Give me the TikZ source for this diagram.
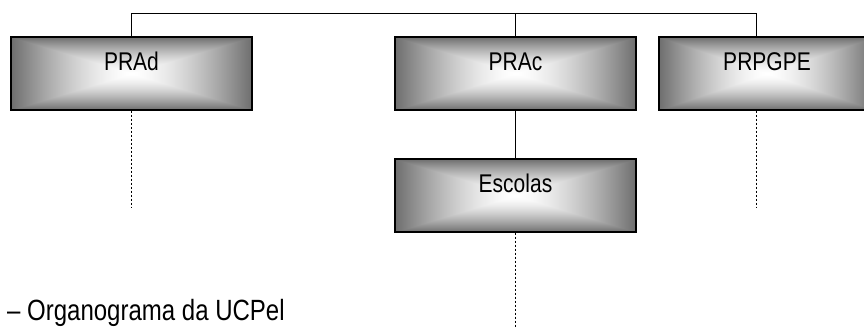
\documentclass[tikz,border=0pt]{standalone}
\usepackage{fontspec}
\setmainfont{Liberation Sans}
\usepackage{graphicx}
\pgfdeclarefunctionalshading{boxshade}{\pgfpoint{-50bp}{-50bp}}{\pgfpoint{50bp}{50bp}}{}{
abs exch abs 2 copy lt {exch} if pop 25 div dup 1 gt {pop 1} if dup sqrt mul 0.57 mul 1 exch sub dup dup
}
\tikzset{
  orgbox/.style={draw=black, line width=1.2pt, shading=boxshade, minimum height=73pt,
    inner sep=0pt, text height=10pt, text depth=16pt, font=\fontsize{21}{25}\selectfont},
  conn/.style={line width=0.8pt, draw=black},
  dashconn/.style={line width=0.8pt, draw=black, dash pattern=on 2.5pt off 1.5pt}
}
\newcommand{\stretchtxt}[1]{\scalebox{1}[1.22]{#1}}
\begin{document}
\begin{tikzpicture}[x=1pt,y=-1pt]
\useasboundingbox (0,0) rectangle (864,327);
\clip (0,0) rectangle (864,327);
\fill[white] (0,0) rectangle (864,327);
\node[orgbox, minimum width=241pt] (prad) at (131.5,73.5) {\stretchtxt{PRAd}};
\node[orgbox, minimum width=241pt] (prac) at (515.5,73.5) {\stretchtxt{PRAc}};
\node[orgbox, minimum width=216pt] (prpgpe) at (767,73.5) {\stretchtxt{PRPGPE}};
\node[orgbox, minimum width=241pt] (escolas) at (515.5,195.5) {\stretchtxt{Escolas}};
\coordinate (busL) at (131.5,13);
\coordinate (busR) at (756,13);
\coordinate (d1) at (131.5,207);
\coordinate (d2) at (756,207);
\coordinate (d3) at (515.5,327);
\draw[conn] (prad.north) -- (busL) -- (busR) -- (busR |- prpgpe.north);
\draw[conn] (prac.north) -- (prac.north |- busL);
\draw[conn] (prac.south) -- (escolas.north);
\draw[dashconn] (prad.south) -- (d1);
\draw[dashconn] (busR |- prpgpe.south) -- (d2);
\draw[dashconn] (escolas.south) -- (d3);
\node[anchor=base west, inner sep=0pt, font=\fontsize{24}{28}\selectfont] (cap) at (7,320) {\stretchtxt{– Organograma da UCPel}};
\end{tikzpicture}
\end{document}
